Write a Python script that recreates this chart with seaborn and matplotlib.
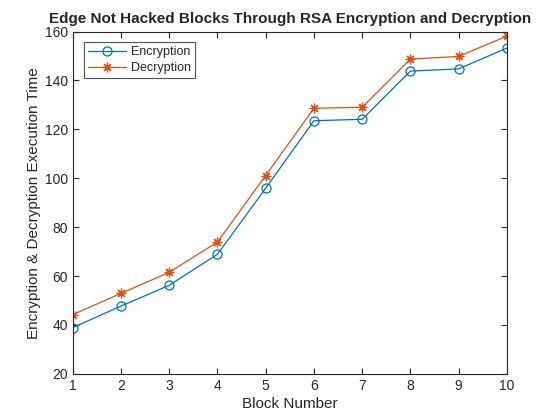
import matplotlib
matplotlib.use("Agg")
import matplotlib.pyplot as plt
import seaborn as sns
import pandas as pd

# values
blocks = [1, 2, 3, 4, 5, 6, 7, 8, 9, 10]
encryption = [38.9, 47.7, 56.2, 68.9, 95.9, 123.5, 124.1, 143.8, 144.7, 153.2]
decryption = [44.2, 52.9, 61.5, 73.9, 101.1, 128.6, 129.0, 148.7, 149.8, 158.1]

df = pd.DataFrame({"block": blocks, "Encryption": encryption, "Decryption": decryption})

sns.set_style("ticks")
plt.rcParams['font.family'] = ['Liberation Sans', 'DejaVu Sans']

fig = plt.figure(figsize=(5.6, 4.2), dpi=100)
ax = fig.add_axes([0.13, 0.11, 0.775, 0.815])

sns.lineplot(x='block', y='Encryption', data=df, ax=ax, color='#0072BD', lw=0.9,
             marker='o', markersize=6.5, markerfacecolor='none', markeredgecolor='#0072BD',
             markeredgewidth=0.9, label='Encryption')
# MATLAB style asterisk marker
sns.lineplot(x='block', y='Decryption', data=df, ax=ax, color='#D95319', lw=0.9,
             marker=(8, 2, 0), markersize=7, markerfacecolor='none', markeredgecolor='#D95319',
             markeredgewidth=0.9, label='Decryption')

ax.set_xlim(1, 10)
ax.set_ylim(20, 160)
ax.set_xticks(blocks)
ax.set_yticks(range(20, 161, 20))
ax.tick_params(direction='in', top=True, right=True, labelsize=10, colors='#262626', length=4)
for s in ax.spines.values():
    s.set_visible(True)
    s.set_color('#262626')
    s.set_linewidth(0.8)

ax.set_title('Edge Not Hacked Blocks Through RSA Encryption and Decryption',
             fontsize=11, fontweight='bold', pad=6)
ax.set_xlabel('Block Number', fontsize=11, color='#262626', labelpad=3)
ax.set_ylabel('Encryption & Decryption Execution Time', fontsize=11, color='#262626', labelpad=3)

leg = ax.legend(loc='upper left', bbox_to_anchor=(0.025, 0.97), fontsize=9, frameon=True,
                fancybox=False, edgecolor='#262626', handlelength=3.0, handletextpad=0.4,
                borderpad=0.35, labelspacing=0.3, borderaxespad=0)
leg.get_frame().set_linewidth(0.8)

fig.savefig('out.png', dpi=100)
